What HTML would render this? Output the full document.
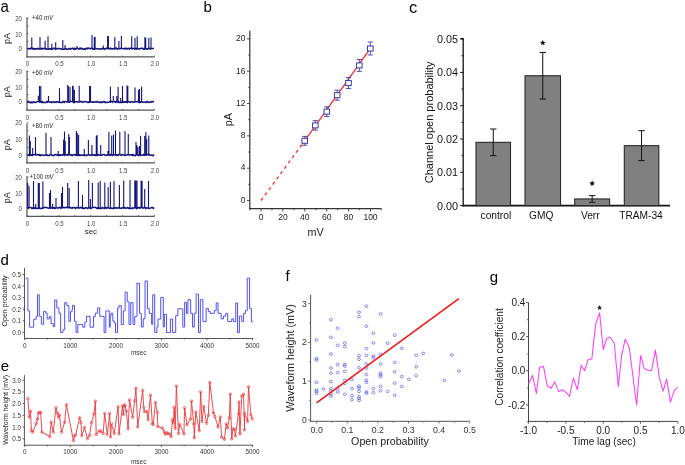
<!DOCTYPE html>
<html><head><meta charset="utf-8"><style>
html,body{margin:0;padding:0;background:#fff;}
svg{display:block;font-family:"Liberation Sans", sans-serif;}
text{filter:grayscale(1);}
</style></head><body>
<svg width="685" height="465" viewBox="0 0 685 465" font-family='"Liberation Sans", sans-serif'>
<rect width="685" height="465" fill="#fff"/>
<text x="0" y="0" font-size="15" fill="#000" transform="translate(0.6,12.2) scale(1,1.15)">a</text>
<text x="203.60" y="12.00" font-size="15" text-anchor="start" fill="#000" >b</text>
<text x="409.00" y="12.50" font-size="16.5" text-anchor="start" fill="#000" >c</text>
<text x="0.60" y="265.20" font-size="15" text-anchor="start" fill="#000" >d</text>
<text x="0.80" y="371.20" font-size="15" text-anchor="start" fill="#000" >e</text>
<text x="285.50" y="280.80" font-size="15" text-anchor="start" fill="#000" >f</text>
<text x="489.80" y="282.30" font-size="15" text-anchor="start" fill="#000" >g</text>
<line x1="27.00" y1="17.20" x2="27.00" y2="57.40" stroke="#555" stroke-width="1.2" />
<line x1="27.00" y1="48.90" x2="28.50" y2="48.90" stroke="#555" stroke-width="0.8" />
<line x1="27.00" y1="41.27" x2="28.50" y2="41.27" stroke="#555" stroke-width="0.8" />
<line x1="27.00" y1="33.65" x2="28.50" y2="33.65" stroke="#555" stroke-width="0.8" />
<line x1="27.00" y1="26.02" x2="28.50" y2="26.02" stroke="#555" stroke-width="0.8" />
<line x1="27.00" y1="18.40" x2="28.50" y2="18.40" stroke="#555" stroke-width="0.8" />
<line x1="26.40" y1="56.80" x2="154.50" y2="56.80" stroke="#555" stroke-width="1.2" />
<line x1="27.00" y1="56.80" x2="27.00" y2="55.50" stroke="#555" stroke-width="0.8" />
<line x1="42.94" y1="56.80" x2="42.94" y2="55.50" stroke="#555" stroke-width="0.8" />
<line x1="58.88" y1="56.80" x2="58.88" y2="55.50" stroke="#555" stroke-width="0.8" />
<line x1="74.81" y1="56.80" x2="74.81" y2="55.50" stroke="#555" stroke-width="0.8" />
<line x1="90.75" y1="56.80" x2="90.75" y2="55.50" stroke="#555" stroke-width="0.8" />
<line x1="106.69" y1="56.80" x2="106.69" y2="55.50" stroke="#555" stroke-width="0.8" />
<line x1="122.62" y1="56.80" x2="122.62" y2="55.50" stroke="#555" stroke-width="0.8" />
<line x1="138.56" y1="56.80" x2="138.56" y2="55.50" stroke="#555" stroke-width="0.8" />
<line x1="154.50" y1="56.80" x2="154.50" y2="55.50" stroke="#555" stroke-width="0.8" />
<text x="0" y="0" font-size="6.9" text-anchor="end" fill="#444" transform="translate(21.90,20.60) scale(0.88,1)">20</text>
<text x="0" y="0" font-size="6.9" text-anchor="end" fill="#444" transform="translate(21.90,36.60) scale(0.88,1)">10</text>
<text x="0" y="0" font-size="6.9" text-anchor="end" fill="#444" transform="translate(21.90,51.10) scale(0.88,1)">0</text>
<text x="0" y="0" font-size="6.9" text-anchor="middle" fill="#444" transform="translate(27.50,66.40) scale(0.88,1)">0</text>
<text x="0" y="0" font-size="6.9" text-anchor="middle" fill="#444" transform="translate(59.38,66.40) scale(0.88,1)">0.5</text>
<text x="0" y="0" font-size="6.9" text-anchor="middle" fill="#444" transform="translate(91.25,66.40) scale(0.88,1)">1.0</text>
<text x="0" y="0" font-size="6.9" text-anchor="middle" fill="#444" transform="translate(123.12,66.40) scale(0.88,1)">1.5</text>
<text x="0" y="0" font-size="6.9" text-anchor="middle" fill="#444" transform="translate(155.00,66.40) scale(0.88,1)">2.0</text>
<text x="0" y="0" font-size="9.0" text-anchor="middle" fill="#222" transform="translate(9.80,38.40) rotate(-90)">pA</text>
<text x="32.00" y="19.50" font-size="6.6" fill="#222" textLength="21.0" lengthAdjust="spacingAndGlyphs">+40 <tspan font-style="italic">mV</tspan></text>
<polyline points="27.30,48.33 28.00,48.76 28.70,48.52 29.40,48.85 30.10,48.88 30.80,48.09 31.50,48.02 32.20,49.17 32.90,48.36 33.60,48.33 34.30,49.39 35.00,48.66 35.70,49.17 36.40,48.67 37.10,48.89 37.80,48.21 38.50,48.89 39.20,49.22 39.90,48.73 40.60,49.04 41.30,48.94 42.00,48.09 42.70,49.06 43.40,48.83 44.10,48.42 44.80,48.04 45.50,49.21 46.20,48.66 46.90,49.01 47.60,49.23 48.30,49.00 49.00,49.29 49.70,48.55 50.40,49.12 51.10,48.62 51.80,49.31 52.50,49.23 53.20,48.14 53.90,48.19 54.60,48.30 55.30,49.35 56.00,48.61 56.70,48.88 57.40,48.42 58.10,48.71 58.80,48.54 59.50,48.49 60.20,48.82 60.90,48.82 61.60,49.27 62.30,48.95 63.00,49.30 63.70,49.20 64.40,49.39 65.10,48.94 65.80,48.23 66.50,49.20 67.20,49.35 67.90,49.27 68.60,48.80 69.30,49.00 70.00,48.30 70.70,49.16 71.40,48.80 72.10,48.40 72.80,48.09 73.50,49.20 74.20,49.39 74.90,48.12 75.60,49.12 76.30,48.57 77.00,48.21 77.70,48.41 78.40,49.08 79.10,49.22 79.80,48.06 80.50,48.86 81.20,48.06 81.90,49.01 82.60,48.46 83.30,49.23 84.00,49.37 84.70,48.71 85.40,49.40 86.10,48.43 86.80,48.11 87.50,48.84 88.20,48.04 88.90,48.28 89.60,48.57 90.30,48.85 91.00,48.22 91.70,48.06 92.40,49.21 93.10,48.44 93.80,49.34 94.50,49.26 95.20,48.53 95.90,48.64 96.60,48.73 97.30,48.90 98.00,48.83 98.70,48.78 99.40,48.87 100.10,49.32 100.80,48.71 101.50,48.60 102.20,49.01 102.90,48.33 103.60,48.42 104.30,49.37 105.00,48.73 105.70,48.77 106.40,48.02 107.10,48.58 107.80,48.81 108.50,48.03 109.20,48.86 109.90,48.89 110.60,48.08 111.30,48.88 112.00,48.65 112.70,48.95 113.40,48.49 114.10,48.99 114.80,49.03 115.50,48.03 116.20,48.08 116.90,48.95 117.60,49.35 118.30,48.35 119.00,48.64 119.70,48.83 120.40,48.45 121.10,48.51 121.80,48.44 122.50,48.52 123.20,48.83 123.90,48.42 124.60,48.53 125.30,49.08 126.00,48.04 126.70,48.80 127.40,49.03 128.10,48.43 128.80,48.31 129.50,49.13 130.20,48.33 130.90,48.26 131.60,48.61 132.30,48.98 133.00,48.14 133.70,48.45 134.40,48.47 135.10,49.17 135.80,48.61 136.50,49.20 137.20,48.24 137.90,48.47 138.60,48.91 139.30,49.24 140.00,48.63 140.70,48.32 141.40,48.17 142.10,48.74 142.80,48.27 143.50,49.13 144.20,49.17 144.90,48.26 145.60,48.39 146.30,49.13 147.00,48.90 147.70,49.13 148.40,48.48 149.10,48.18 149.80,48.41 150.50,49.11 151.20,48.38 151.90,48.48 152.60,48.58 153.30,48.59 154.00,48.57" fill="none" stroke="#14147a" stroke-width="1.5" stroke-linejoin="round"/>
<path d="M31.80,48.70V37.40M40.00,48.70V37.00M45.10,48.70V40.70M48.00,48.70V36.20M51.80,48.70V43.70M55.70,48.70V42.30M62.80,48.70V39.90M65.00,48.70V45.00M77.10,48.70V46.00M92.00,48.70V35.00M94.30,48.70V37.00M95.10,48.70V37.00M103.30,48.70V45.50M107.60,48.70V36.30M108.40,48.70V36.00M114.80,48.70V37.00M118.90,48.70V41.00M121.40,48.70V36.00M131.70,48.70V36.30M135.00,48.70V38.00M137.20,48.70V36.30M144.90,48.70V37.00M145.70,48.70V38.00M148.80,48.70V38.00M151.00,48.70V37.40" fill="none" stroke="#14147a" stroke-width="1.1"/>
<line x1="27.00" y1="70.60" x2="27.00" y2="110.80" stroke="#555" stroke-width="1.2" />
<line x1="27.00" y1="102.10" x2="28.50" y2="102.10" stroke="#555" stroke-width="0.8" />
<line x1="27.00" y1="94.47" x2="28.50" y2="94.47" stroke="#555" stroke-width="0.8" />
<line x1="27.00" y1="86.85" x2="28.50" y2="86.85" stroke="#555" stroke-width="0.8" />
<line x1="27.00" y1="79.22" x2="28.50" y2="79.22" stroke="#555" stroke-width="0.8" />
<line x1="27.00" y1="71.60" x2="28.50" y2="71.60" stroke="#555" stroke-width="0.8" />
<line x1="26.40" y1="110.20" x2="154.50" y2="110.20" stroke="#555" stroke-width="1.2" />
<line x1="27.00" y1="110.20" x2="27.00" y2="108.90" stroke="#555" stroke-width="0.8" />
<line x1="42.94" y1="110.20" x2="42.94" y2="108.90" stroke="#555" stroke-width="0.8" />
<line x1="58.88" y1="110.20" x2="58.88" y2="108.90" stroke="#555" stroke-width="0.8" />
<line x1="74.81" y1="110.20" x2="74.81" y2="108.90" stroke="#555" stroke-width="0.8" />
<line x1="90.75" y1="110.20" x2="90.75" y2="108.90" stroke="#555" stroke-width="0.8" />
<line x1="106.69" y1="110.20" x2="106.69" y2="108.90" stroke="#555" stroke-width="0.8" />
<line x1="122.62" y1="110.20" x2="122.62" y2="108.90" stroke="#555" stroke-width="0.8" />
<line x1="138.56" y1="110.20" x2="138.56" y2="108.90" stroke="#555" stroke-width="0.8" />
<line x1="154.50" y1="110.20" x2="154.50" y2="108.90" stroke="#555" stroke-width="0.8" />
<text x="0" y="0" font-size="6.9" text-anchor="end" fill="#444" transform="translate(21.90,73.80) scale(0.88,1)">20</text>
<text x="0" y="0" font-size="6.9" text-anchor="end" fill="#444" transform="translate(21.90,89.70) scale(0.88,1)">10</text>
<text x="0" y="0" font-size="6.9" text-anchor="end" fill="#444" transform="translate(21.90,104.30) scale(0.88,1)">0</text>
<text x="0" y="0" font-size="6.9" text-anchor="middle" fill="#444" transform="translate(27.50,119.80) scale(0.88,1)">0</text>
<text x="0" y="0" font-size="6.9" text-anchor="middle" fill="#444" transform="translate(59.38,119.80) scale(0.88,1)">0.5</text>
<text x="0" y="0" font-size="6.9" text-anchor="middle" fill="#444" transform="translate(91.25,119.80) scale(0.88,1)">1.0</text>
<text x="0" y="0" font-size="6.9" text-anchor="middle" fill="#444" transform="translate(123.12,119.80) scale(0.88,1)">1.5</text>
<text x="0" y="0" font-size="6.9" text-anchor="middle" fill="#444" transform="translate(155.00,119.80) scale(0.88,1)">2.0</text>
<text x="0" y="0" font-size="9.0" text-anchor="middle" fill="#222" transform="translate(9.80,91.70) rotate(-90)">pA</text>
<text x="32.00" y="75.00" font-size="6.6" fill="#222" textLength="21.0" lengthAdjust="spacingAndGlyphs">+60 <tspan font-style="italic">mV</tspan></text>
<polyline points="27.30,102.59 28.00,101.52 28.70,101.31 29.40,102.62 30.10,102.53 30.80,102.68 31.50,101.91 32.20,102.63 32.90,102.60 33.60,101.61 34.30,102.34 35.00,102.47 35.70,102.23 36.40,102.03 37.10,101.70 37.80,101.78 38.50,101.62 39.20,101.40 39.90,102.12 40.60,101.70 41.30,102.43 42.00,101.36 42.70,102.57 43.40,102.27 44.10,102.59 44.80,102.56 45.50,102.56 46.20,102.11 46.90,101.32 47.60,102.34 48.30,101.54 49.00,101.72 49.70,102.23 50.40,102.03 51.10,101.88 51.80,102.61 52.50,102.16 53.20,101.78 53.90,101.65 54.60,102.51 55.30,101.97 56.00,102.40 56.70,101.79 57.40,101.58 58.10,102.05 58.80,102.44 59.50,101.54 60.20,102.41 60.90,102.59 61.60,102.43 62.30,102.45 63.00,101.31 63.70,102.18 64.40,102.51 65.10,101.37 65.80,101.68 66.50,101.68 67.20,102.04 67.90,101.89 68.60,101.96 69.30,102.39 70.00,101.30 70.70,101.38 71.40,101.48 72.10,101.47 72.80,101.40 73.50,102.66 74.20,102.50 74.90,101.42 75.60,102.00 76.30,101.74 77.00,101.74 77.70,101.79 78.40,102.21 79.10,102.12 79.80,101.81 80.50,101.57 81.20,101.76 81.90,101.47 82.60,102.08 83.30,102.30 84.00,101.83 84.70,101.41 85.40,101.55 86.10,101.82 86.80,102.15 87.50,102.40 88.20,101.83 88.90,102.42 89.60,102.17 90.30,101.90 91.00,101.82 91.70,101.99 92.40,102.28 93.10,101.89 93.80,102.27 94.50,101.95 95.20,101.64 95.90,102.05 96.60,102.27 97.30,101.40 98.00,101.89 98.70,101.90 99.40,102.53 100.10,102.61 100.80,101.82 101.50,102.56 102.20,102.41 102.90,101.67 103.60,101.95 104.30,101.47 105.00,102.44 105.70,102.23 106.40,102.54 107.10,102.41 107.80,102.23 108.50,102.33 109.20,102.09 109.90,101.44 110.60,102.12 111.30,101.31 112.00,101.50 112.70,102.38 113.40,101.36 114.10,101.43 114.80,101.44 115.50,102.53 116.20,101.55 116.90,101.33 117.60,102.48 118.30,101.47 119.00,102.48 119.70,102.24 120.40,102.47 121.10,102.63 121.80,102.11 122.50,102.42 123.20,101.35 123.90,102.37 124.60,102.02 125.30,102.30 126.00,101.45 126.70,102.35 127.40,102.61 128.10,101.39 128.80,101.75 129.50,102.09 130.20,102.46 130.90,101.64 131.60,101.55 132.30,101.65 133.00,102.16 133.70,102.35 134.40,101.85 135.10,101.81 135.80,101.86 136.50,101.79 137.20,101.89 137.90,101.42 138.60,102.00 139.30,102.66 140.00,101.88 140.70,102.35 141.40,101.52 142.10,102.27 142.80,102.36 143.50,102.24 144.20,102.02 144.90,101.98 145.60,102.20 146.30,102.56 147.00,101.51 147.70,101.43 148.40,102.35 149.10,102.58 149.80,102.02 150.50,101.92 151.20,102.31 151.90,101.56 152.60,101.67 153.30,101.58 154.00,102.12" fill="none" stroke="#14147a" stroke-width="1.5" stroke-linejoin="round"/>
<path d="M38.30,102.00V95.70M39.50,102.00V86.00M40.80,102.00V86.00M48.50,102.00V96.00M59.50,102.00V88.30M67.70,102.00V85.00M68.40,102.00V86.00M70.00,102.00V87.00M72.50,102.00V85.70M73.20,102.00V86.00M74.40,102.00V90.00M79.20,102.00V85.70M89.60,102.00V86.00M90.50,102.00V86.00M110.40,102.00V86.50M113.30,102.00V96.00M116.80,102.00V96.00M118.10,102.00V87.00M120.70,102.00V98.00M122.50,102.00V86.00M127.00,102.00V85.50M127.80,102.00V86.00M135.00,102.00V87.50M138.50,102.00V90.00M139.50,102.00V89.00M141.60,102.00V86.50" fill="none" stroke="#14147a" stroke-width="1.1"/>
<line x1="27.00" y1="123.60" x2="27.00" y2="163.50" stroke="#555" stroke-width="1.2" />
<line x1="27.00" y1="155.80" x2="28.50" y2="155.80" stroke="#555" stroke-width="0.8" />
<line x1="27.00" y1="147.53" x2="28.50" y2="147.53" stroke="#555" stroke-width="0.8" />
<line x1="27.00" y1="139.25" x2="28.50" y2="139.25" stroke="#555" stroke-width="0.8" />
<line x1="27.00" y1="130.97" x2="28.50" y2="130.97" stroke="#555" stroke-width="0.8" />
<line x1="27.00" y1="122.70" x2="28.50" y2="122.70" stroke="#555" stroke-width="0.8" />
<line x1="26.40" y1="162.90" x2="154.50" y2="162.90" stroke="#555" stroke-width="1.2" />
<line x1="27.00" y1="162.90" x2="27.00" y2="161.60" stroke="#555" stroke-width="0.8" />
<line x1="42.94" y1="162.90" x2="42.94" y2="161.60" stroke="#555" stroke-width="0.8" />
<line x1="58.88" y1="162.90" x2="58.88" y2="161.60" stroke="#555" stroke-width="0.8" />
<line x1="74.81" y1="162.90" x2="74.81" y2="161.60" stroke="#555" stroke-width="0.8" />
<line x1="90.75" y1="162.90" x2="90.75" y2="161.60" stroke="#555" stroke-width="0.8" />
<line x1="106.69" y1="162.90" x2="106.69" y2="161.60" stroke="#555" stroke-width="0.8" />
<line x1="122.62" y1="162.90" x2="122.62" y2="161.60" stroke="#555" stroke-width="0.8" />
<line x1="138.56" y1="162.90" x2="138.56" y2="161.60" stroke="#555" stroke-width="0.8" />
<line x1="154.50" y1="162.90" x2="154.50" y2="161.60" stroke="#555" stroke-width="0.8" />
<text x="0" y="0" font-size="6.9" text-anchor="end" fill="#444" transform="translate(21.90,124.90) scale(0.88,1)">20</text>
<text x="0" y="0" font-size="6.9" text-anchor="end" fill="#444" transform="translate(21.90,141.70) scale(0.88,1)">10</text>
<text x="0" y="0" font-size="6.9" text-anchor="end" fill="#444" transform="translate(21.90,158.00) scale(0.88,1)">0</text>
<text x="0" y="0" font-size="6.9" text-anchor="middle" fill="#444" transform="translate(27.50,172.50) scale(0.88,1)">0</text>
<text x="0" y="0" font-size="6.9" text-anchor="middle" fill="#444" transform="translate(59.38,172.50) scale(0.88,1)">0.5</text>
<text x="0" y="0" font-size="6.9" text-anchor="middle" fill="#444" transform="translate(91.25,172.50) scale(0.88,1)">1.0</text>
<text x="0" y="0" font-size="6.9" text-anchor="middle" fill="#444" transform="translate(123.12,172.50) scale(0.88,1)">1.5</text>
<text x="0" y="0" font-size="6.9" text-anchor="middle" fill="#444" transform="translate(155.00,172.50) scale(0.88,1)">2.0</text>
<text x="0" y="0" font-size="9.0" text-anchor="middle" fill="#222" transform="translate(9.80,144.70) rotate(-90)">pA</text>
<text x="32.00" y="128.00" font-size="6.6" fill="#222" textLength="21.0" lengthAdjust="spacingAndGlyphs">+80 <tspan font-style="italic">mV</tspan></text>
<polyline points="27.30,154.74 28.00,154.63 28.70,155.27 29.40,155.63 30.10,154.71 30.80,155.29 31.50,154.88 32.20,155.50 32.90,155.12 33.60,154.67 34.30,154.60 35.00,154.33 35.70,154.97 36.40,154.84 37.10,154.54 37.80,154.80 38.50,154.75 39.20,155.38 39.90,154.50 40.60,155.69 41.30,154.97 42.00,155.14 42.70,154.96 43.40,155.47 44.10,155.45 44.80,155.08 45.50,154.97 46.20,155.31 46.90,155.50 47.60,154.86 48.30,155.33 49.00,155.64 49.70,154.95 50.40,154.62 51.10,154.63 51.80,155.30 52.50,155.25 53.20,155.64 53.90,155.50 54.60,154.64 55.30,154.57 56.00,154.66 56.70,154.56 57.40,155.29 58.10,155.50 58.80,155.56 59.50,154.66 60.20,155.51 60.90,154.74 61.60,154.89 62.30,155.32 63.00,154.42 63.70,154.43 64.40,155.47 65.10,154.71 65.80,154.80 66.50,155.11 67.20,155.25 67.90,154.31 68.60,154.77 69.30,154.91 70.00,154.98 70.70,154.59 71.40,155.12 72.10,155.64 72.80,154.85 73.50,155.06 74.20,154.47 74.90,154.68 75.60,155.23 76.30,154.46 77.00,155.54 77.70,155.57 78.40,154.44 79.10,155.62 79.80,154.82 80.50,155.38 81.20,155.36 81.90,154.71 82.60,155.25 83.30,155.22 84.00,155.43 84.70,154.67 85.40,155.36 86.10,155.65 86.80,155.24 87.50,155.05 88.20,154.46 88.90,154.99 89.60,154.79 90.30,155.31 91.00,155.25 91.70,155.09 92.40,154.55 93.10,155.20 93.80,155.18 94.50,154.55 95.20,155.55 95.90,155.22 96.60,154.47 97.30,155.60 98.00,154.50 98.70,154.76 99.40,155.31 100.10,155.14 100.80,155.08 101.50,155.21 102.20,154.94 102.90,154.74 103.60,154.55 104.30,154.40 105.00,155.30 105.70,155.36 106.40,155.06 107.10,155.34 107.80,154.80 108.50,154.67 109.20,154.84 109.90,155.52 110.60,154.36 111.30,155.01 112.00,154.65 112.70,155.38 113.40,154.80 114.10,154.77 114.80,154.86 115.50,155.06 116.20,155.38 116.90,154.79 117.60,155.49 118.30,154.46 119.00,154.68 119.70,154.44 120.40,154.46 121.10,155.39 121.80,155.32 122.50,154.56 123.20,154.56 123.90,154.88 124.60,155.34 125.30,155.44 126.00,155.35 126.70,155.13 127.40,154.51 128.10,154.86 128.80,154.57 129.50,155.04 130.20,155.10 130.90,154.58 131.60,154.65 132.30,155.39 133.00,154.34 133.70,155.42 134.40,155.55 135.10,155.63 135.80,154.84 136.50,155.07 137.20,155.12 137.90,155.19 138.60,155.67 139.30,155.26 140.00,154.72 140.70,155.50 141.40,154.98 142.10,155.14 142.80,155.32 143.50,154.30 144.20,155.38 144.90,155.23 145.60,154.99 146.30,155.03 147.00,154.94 147.70,154.57 148.40,155.04 149.10,154.35 149.80,155.00 150.50,155.20 151.20,154.92 151.90,155.09 152.60,155.64 153.30,155.55 154.00,154.49" fill="none" stroke="#14147a" stroke-width="1.5" stroke-linejoin="round"/>
<path d="M29.40,155.00V135.60M30.30,155.00V141.00M32.70,155.00V148.00M35.50,155.00V137.00M46.00,155.00V132.80M51.00,155.00V137.00M58.20,155.00V151.00M63.60,155.00V139.50M64.50,155.00V131.60M65.20,155.00V141.00M68.70,155.00V134.00M69.40,155.00V137.00M76.40,155.00V131.00M77.30,155.00V133.00M78.60,155.00V135.00M84.30,155.00V149.00M88.40,155.00V140.00M91.90,155.00V145.00M96.30,155.00V136.00M97.10,155.00V135.00M100.70,155.00V145.00M107.90,155.00V151.00M108.90,155.00V132.00M111.70,155.00V135.50M113.50,155.00V134.50M115.50,155.00V130.50M119.80,155.00V131.80M125.00,155.00V131.00M128.30,155.00V134.00M136.00,155.00V142.00M136.80,155.00V145.00M138.00,155.00V147.00M139.60,155.00V146.00M140.60,155.00V135.70M144.70,155.00V136.00M145.90,155.00V132.00M146.70,155.00V139.00M148.80,155.00V135.50" fill="none" stroke="#14147a" stroke-width="1.1"/>
<line x1="27.00" y1="176.00" x2="27.00" y2="216.90" stroke="#555" stroke-width="1.2" />
<line x1="27.00" y1="209.00" x2="28.50" y2="209.00" stroke="#555" stroke-width="0.8" />
<line x1="27.00" y1="201.10" x2="28.50" y2="201.10" stroke="#555" stroke-width="0.8" />
<line x1="27.00" y1="193.20" x2="28.50" y2="193.20" stroke="#555" stroke-width="0.8" />
<line x1="27.00" y1="185.30" x2="28.50" y2="185.30" stroke="#555" stroke-width="0.8" />
<line x1="27.00" y1="177.40" x2="28.50" y2="177.40" stroke="#555" stroke-width="0.8" />
<line x1="26.40" y1="216.30" x2="154.50" y2="216.30" stroke="#555" stroke-width="1.2" />
<line x1="27.00" y1="216.30" x2="27.00" y2="215.00" stroke="#555" stroke-width="0.8" />
<line x1="42.94" y1="216.30" x2="42.94" y2="215.00" stroke="#555" stroke-width="0.8" />
<line x1="58.88" y1="216.30" x2="58.88" y2="215.00" stroke="#555" stroke-width="0.8" />
<line x1="74.81" y1="216.30" x2="74.81" y2="215.00" stroke="#555" stroke-width="0.8" />
<line x1="90.75" y1="216.30" x2="90.75" y2="215.00" stroke="#555" stroke-width="0.8" />
<line x1="106.69" y1="216.30" x2="106.69" y2="215.00" stroke="#555" stroke-width="0.8" />
<line x1="122.62" y1="216.30" x2="122.62" y2="215.00" stroke="#555" stroke-width="0.8" />
<line x1="138.56" y1="216.30" x2="138.56" y2="215.00" stroke="#555" stroke-width="0.8" />
<line x1="154.50" y1="216.30" x2="154.50" y2="215.00" stroke="#555" stroke-width="0.8" />
<text x="0" y="0" font-size="6.9" text-anchor="end" fill="#444" transform="translate(21.90,179.60) scale(0.88,1)">20</text>
<text x="0" y="0" font-size="6.9" text-anchor="end" fill="#444" transform="translate(21.90,196.10) scale(0.88,1)">10</text>
<text x="0" y="0" font-size="6.9" text-anchor="end" fill="#444" transform="translate(21.90,211.20) scale(0.88,1)">0</text>
<text x="0" y="0" font-size="6.9" text-anchor="middle" fill="#444" transform="translate(27.50,225.90) scale(0.88,1)">0</text>
<text x="0" y="0" font-size="6.9" text-anchor="middle" fill="#444" transform="translate(59.38,225.90) scale(0.88,1)">0.5</text>
<text x="0" y="0" font-size="6.9" text-anchor="middle" fill="#444" transform="translate(91.25,225.90) scale(0.88,1)">1.0</text>
<text x="0" y="0" font-size="6.9" text-anchor="middle" fill="#444" transform="translate(123.12,225.90) scale(0.88,1)">1.5</text>
<text x="0" y="0" font-size="6.9" text-anchor="middle" fill="#444" transform="translate(155.00,225.90) scale(0.88,1)">2.0</text>
<text x="0" y="0" font-size="9.0" text-anchor="middle" fill="#222" transform="translate(9.80,197.70) rotate(-90)">pA</text>
<text x="29.60" y="178.90" font-size="6.6" fill="#222" textLength="24.0" lengthAdjust="spacingAndGlyphs">+100 <tspan font-style="italic">mV</tspan></text>
<polyline points="27.30,208.41 28.00,208.17 28.70,207.37 29.40,207.80 30.10,207.63 30.80,207.41 31.50,208.05 32.20,208.60 32.90,207.75 33.60,208.52 34.30,208.27 35.00,207.49 35.70,208.50 36.40,208.14 37.10,208.60 37.80,208.30 38.50,208.34 39.20,207.78 39.90,208.43 40.60,208.60 41.30,208.51 42.00,207.91 42.70,208.36 43.40,207.98 44.10,207.45 44.80,207.36 45.50,207.41 46.20,207.58 46.90,207.53 47.60,208.00 48.30,208.28 49.00,208.05 49.70,207.89 50.40,208.21 51.10,207.73 51.80,207.95 52.50,208.36 53.20,207.86 53.90,207.55 54.60,208.56 55.30,208.31 56.00,207.81 56.70,207.82 57.40,208.04 58.10,208.14 58.80,207.61 59.50,207.30 60.20,207.59 60.90,208.40 61.60,207.50 62.30,207.94 63.00,207.57 63.70,207.59 64.40,207.54 65.10,207.87 65.80,207.54 66.50,207.34 67.20,207.45 67.90,207.54 68.60,207.99 69.30,207.38 70.00,207.33 70.70,207.93 71.40,207.87 72.10,208.28 72.80,207.37 73.50,207.86 74.20,207.86 74.90,207.34 75.60,208.65 76.30,207.61 77.00,207.43 77.70,207.96 78.40,207.53 79.10,208.17 79.80,207.78 80.50,207.47 81.20,207.37 81.90,208.32 82.60,207.69 83.30,208.40 84.00,207.95 84.70,208.61 85.40,207.72 86.10,207.65 86.80,207.67 87.50,208.44 88.20,208.18 88.90,207.78 89.60,207.43 90.30,208.26 91.00,208.66 91.70,208.13 92.40,207.31 93.10,207.34 93.80,207.43 94.50,207.54 95.20,207.35 95.90,207.38 96.60,208.22 97.30,208.56 98.00,207.58 98.70,208.66 99.40,207.97 100.10,208.43 100.80,208.58 101.50,208.62 102.20,207.35 102.90,207.73 103.60,208.15 104.30,208.63 105.00,207.42 105.70,207.71 106.40,208.49 107.10,207.46 107.80,207.85 108.50,207.77 109.20,208.25 109.90,208.60 110.60,207.54 111.30,208.34 112.00,208.33 112.70,208.47 113.40,208.07 114.10,208.59 114.80,207.81 115.50,207.88 116.20,207.62 116.90,208.39 117.60,207.97 118.30,207.68 119.00,207.54 119.70,208.31 120.40,208.15 121.10,208.29 121.80,207.84 122.50,207.98 123.20,207.52 123.90,208.29 124.60,207.33 125.30,207.95 126.00,208.36 126.70,208.25 127.40,207.44 128.10,207.63 128.80,208.48 129.50,208.20 130.20,208.53 130.90,208.52 131.60,207.93 132.30,208.56 133.00,208.33 133.70,207.77 134.40,207.82 135.10,207.40 135.80,207.86 136.50,208.64 137.20,207.45 137.90,208.10 138.60,207.45 139.30,207.41 140.00,208.21 140.70,207.64 141.40,207.37 142.10,207.51 142.80,208.20 143.50,208.12 144.20,207.32 144.90,207.62 145.60,208.65 146.30,207.61 147.00,208.09 147.70,207.89 148.40,208.39 149.10,208.15 149.80,208.40 150.50,208.05 151.20,207.56 151.90,207.55 152.60,207.41 153.30,208.46 154.00,207.46" fill="none" stroke="#14147a" stroke-width="1.5" stroke-linejoin="round"/>
<path d="M27.60,208.00V182.70M29.10,208.00V186.00M33.50,208.00V181.00M35.70,208.00V204.00M38.30,208.00V183.00M39.30,208.00V183.00M42.90,208.00V181.50M49.50,208.00V193.00M50.50,208.00V190.00M52.60,208.00V204.00M56.00,208.00V198.00M61.50,208.00V193.00M62.50,208.00V187.00M67.70,208.00V183.00M69.20,208.00V188.00M78.40,208.00V181.00M82.50,208.00V195.00M88.70,208.00V180.00M90.40,208.00V199.00M92.40,208.00V183.00M98.20,208.00V182.50M100.20,208.00V181.00M104.80,208.00V182.50M108.20,208.00V187.00M110.40,208.00V182.00M114.00,208.00V181.00M119.40,208.00V185.00M123.70,208.00V180.50M130.00,208.00V180.00M134.80,208.00V180.50M135.80,208.00V180.50M137.00,208.00V180.50M141.10,208.00V180.50M142.10,208.00V181.00M144.70,208.00V189.00M148.50,208.00V181.00" fill="none" stroke="#14147a" stroke-width="1.1"/>
<text x="90.90" y="233.80" font-size="7.9" text-anchor="middle" fill="#222" >sec</text>
<line x1="249.80" y1="30.70" x2="249.80" y2="209.30" stroke="#333" stroke-width="1.2" />
<line x1="249.20" y1="208.70" x2="381.30" y2="208.70" stroke="#333" stroke-width="1.2" />
<line x1="247.00" y1="200.50" x2="249.80" y2="200.50" stroke="#333" stroke-width="0.9" />
<text x="245.50" y="202.80" font-size="8.5" text-anchor="end" fill="#222" >0</text>
<line x1="248.20" y1="184.34" x2="249.80" y2="184.34" stroke="#333" stroke-width="0.8" />
<line x1="247.00" y1="168.18" x2="249.80" y2="168.18" stroke="#333" stroke-width="0.9" />
<text x="245.50" y="170.48" font-size="8.5" text-anchor="end" fill="#222" >4</text>
<line x1="248.20" y1="152.02" x2="249.80" y2="152.02" stroke="#333" stroke-width="0.8" />
<line x1="247.00" y1="135.86" x2="249.80" y2="135.86" stroke="#333" stroke-width="0.9" />
<text x="245.50" y="138.16" font-size="8.5" text-anchor="end" fill="#222" >8</text>
<line x1="248.20" y1="119.70" x2="249.80" y2="119.70" stroke="#333" stroke-width="0.8" />
<line x1="247.00" y1="103.54" x2="249.80" y2="103.54" stroke="#333" stroke-width="0.9" />
<text x="245.50" y="105.84" font-size="8.5" text-anchor="end" fill="#222" >12</text>
<line x1="248.20" y1="87.38" x2="249.80" y2="87.38" stroke="#333" stroke-width="0.8" />
<line x1="247.00" y1="71.22" x2="249.80" y2="71.22" stroke="#333" stroke-width="0.9" />
<text x="245.50" y="73.52" font-size="8.5" text-anchor="end" fill="#222" >16</text>
<line x1="248.20" y1="55.06" x2="249.80" y2="55.06" stroke="#333" stroke-width="0.8" />
<line x1="247.00" y1="38.90" x2="249.80" y2="38.90" stroke="#333" stroke-width="0.9" />
<text x="245.50" y="41.20" font-size="8.5" text-anchor="end" fill="#222" >20</text>
<line x1="250.05" y1="208.70" x2="250.05" y2="210.30" stroke="#333" stroke-width="0.8" />
<line x1="261.00" y1="208.70" x2="261.00" y2="211.50" stroke="#333" stroke-width="0.9" />
<text x="261.00" y="220.20" font-size="8.5" text-anchor="middle" fill="#222" >0</text>
<line x1="271.95" y1="208.70" x2="271.95" y2="210.30" stroke="#333" stroke-width="0.8" />
<line x1="282.90" y1="208.70" x2="282.90" y2="211.50" stroke="#333" stroke-width="0.9" />
<text x="282.90" y="220.20" font-size="8.5" text-anchor="middle" fill="#222" >20</text>
<line x1="293.85" y1="208.70" x2="293.85" y2="210.30" stroke="#333" stroke-width="0.8" />
<line x1="304.80" y1="208.70" x2="304.80" y2="211.50" stroke="#333" stroke-width="0.9" />
<text x="304.80" y="220.20" font-size="8.5" text-anchor="middle" fill="#222" >40</text>
<line x1="315.75" y1="208.70" x2="315.75" y2="210.30" stroke="#333" stroke-width="0.8" />
<line x1="326.70" y1="208.70" x2="326.70" y2="211.50" stroke="#333" stroke-width="0.9" />
<text x="326.70" y="220.20" font-size="8.5" text-anchor="middle" fill="#222" >60</text>
<line x1="337.65" y1="208.70" x2="337.65" y2="210.30" stroke="#333" stroke-width="0.8" />
<line x1="348.60" y1="208.70" x2="348.60" y2="211.50" stroke="#333" stroke-width="0.9" />
<text x="348.60" y="220.20" font-size="8.5" text-anchor="middle" fill="#222" >80</text>
<line x1="359.55" y1="208.70" x2="359.55" y2="210.30" stroke="#333" stroke-width="0.8" />
<line x1="370.50" y1="208.70" x2="370.50" y2="211.50" stroke="#333" stroke-width="0.9" />
<text x="370.50" y="220.20" font-size="8.5" text-anchor="middle" fill="#222" >100</text>
<line x1="381.45" y1="208.70" x2="381.45" y2="210.30" stroke="#333" stroke-width="0.8" />
<text x="315.70" y="235.90" font-size="10.8" text-anchor="middle" fill="#222" >mV</text>
<text x="0" y="0" font-size="10.8" text-anchor="middle" fill="#222" transform="translate(232.40,119.70) rotate(-90)">pA</text>
<line x1="261.00" y1="200.50" x2="304.80" y2="140.71" stroke="#ff2a2a" stroke-width="1.3" stroke-dasharray="3.2,3.4"/>
<line x1="304.80" y1="140.71" x2="370.50" y2="48.19" stroke="#ff2a2a" stroke-width="1.3"/>
<line x1="304.70" y1="136.40" x2="304.70" y2="145.20" stroke="#3a3aa8" stroke-width="0.9" />
<line x1="302.10" y1="136.40" x2="307.30" y2="136.40" stroke="#3a3aa8" stroke-width="0.9" />
<line x1="302.10" y1="145.20" x2="307.30" y2="145.20" stroke="#3a3aa8" stroke-width="0.9" />
<rect x="301.90" y="138.30" width="5.6" height="5.0" fill="#fff" stroke="#3a3aa8" stroke-width="1"/>
<line x1="315.30" y1="120.65" x2="315.30" y2="130.15" stroke="#3a3aa8" stroke-width="0.9" />
<line x1="312.70" y1="120.65" x2="317.90" y2="120.65" stroke="#3a3aa8" stroke-width="0.9" />
<line x1="312.70" y1="130.15" x2="317.90" y2="130.15" stroke="#3a3aa8" stroke-width="0.9" />
<rect x="312.50" y="122.90" width="5.6" height="5.0" fill="#fff" stroke="#3a3aa8" stroke-width="1"/>
<line x1="326.80" y1="106.80" x2="326.80" y2="116.40" stroke="#3a3aa8" stroke-width="0.9" />
<line x1="324.20" y1="106.80" x2="329.40" y2="106.80" stroke="#3a3aa8" stroke-width="0.9" />
<line x1="324.20" y1="116.40" x2="329.40" y2="116.40" stroke="#3a3aa8" stroke-width="0.9" />
<rect x="324.00" y="109.10" width="5.6" height="5.0" fill="#fff" stroke="#3a3aa8" stroke-width="1"/>
<line x1="337.20" y1="90.20" x2="337.20" y2="100.20" stroke="#3a3aa8" stroke-width="0.9" />
<line x1="334.60" y1="90.20" x2="339.80" y2="90.20" stroke="#3a3aa8" stroke-width="0.9" />
<line x1="334.60" y1="100.20" x2="339.80" y2="100.20" stroke="#3a3aa8" stroke-width="0.9" />
<rect x="334.40" y="92.70" width="5.6" height="5.0" fill="#fff" stroke="#3a3aa8" stroke-width="1"/>
<line x1="348.50" y1="77.65" x2="348.50" y2="88.55" stroke="#3a3aa8" stroke-width="0.9" />
<line x1="345.90" y1="77.65" x2="351.10" y2="77.65" stroke="#3a3aa8" stroke-width="0.9" />
<line x1="345.90" y1="88.55" x2="351.10" y2="88.55" stroke="#3a3aa8" stroke-width="0.9" />
<rect x="345.70" y="80.60" width="5.6" height="5.0" fill="#fff" stroke="#3a3aa8" stroke-width="1"/>
<line x1="359.30" y1="59.45" x2="359.30" y2="71.35" stroke="#3a3aa8" stroke-width="0.9" />
<line x1="356.70" y1="59.45" x2="361.90" y2="59.45" stroke="#3a3aa8" stroke-width="0.9" />
<line x1="356.70" y1="71.35" x2="361.90" y2="71.35" stroke="#3a3aa8" stroke-width="0.9" />
<rect x="356.50" y="62.90" width="5.6" height="5.0" fill="#fff" stroke="#3a3aa8" stroke-width="1"/>
<line x1="370.30" y1="42.05" x2="370.30" y2="54.95" stroke="#3a3aa8" stroke-width="0.9" />
<line x1="367.70" y1="42.05" x2="372.90" y2="42.05" stroke="#3a3aa8" stroke-width="0.9" />
<line x1="367.70" y1="54.95" x2="372.90" y2="54.95" stroke="#3a3aa8" stroke-width="0.9" />
<rect x="367.50" y="46.00" width="5.6" height="5.0" fill="#fff" stroke="#3a3aa8" stroke-width="1"/>
<line x1="463.20" y1="38.10" x2="463.20" y2="206.60" stroke="#111" stroke-width="1.3" />
<line x1="462.60" y1="205.60" x2="670.00" y2="205.60" stroke="#111" stroke-width="1.6" />
<line x1="460.40" y1="38.60" x2="463.20" y2="38.60" stroke="#111" stroke-width="1.0" />
<line x1="460.20" y1="205.60" x2="463.20" y2="205.60" stroke="#111" stroke-width="1.0" />
<text x="458.00" y="209.50" font-size="10.8" text-anchor="end" fill="#111" >0.00</text>
<line x1="461.40" y1="188.95" x2="463.20" y2="188.95" stroke="#111" stroke-width="0.9" />
<line x1="460.20" y1="172.30" x2="463.20" y2="172.30" stroke="#111" stroke-width="1.0" />
<text x="458.00" y="176.20" font-size="10.8" text-anchor="end" fill="#111" >0.01</text>
<line x1="461.40" y1="155.65" x2="463.20" y2="155.65" stroke="#111" stroke-width="0.9" />
<line x1="460.20" y1="139.00" x2="463.20" y2="139.00" stroke="#111" stroke-width="1.0" />
<text x="458.00" y="142.90" font-size="10.8" text-anchor="end" fill="#111" >0.02</text>
<line x1="461.40" y1="122.35" x2="463.20" y2="122.35" stroke="#111" stroke-width="0.9" />
<line x1="460.20" y1="105.70" x2="463.20" y2="105.70" stroke="#111" stroke-width="1.0" />
<text x="458.00" y="109.60" font-size="10.8" text-anchor="end" fill="#111" >0.03</text>
<line x1="461.40" y1="89.05" x2="463.20" y2="89.05" stroke="#111" stroke-width="0.9" />
<line x1="460.20" y1="72.40" x2="463.20" y2="72.40" stroke="#111" stroke-width="1.0" />
<text x="458.00" y="76.30" font-size="10.8" text-anchor="end" fill="#111" >0.04</text>
<line x1="461.40" y1="55.75" x2="463.20" y2="55.75" stroke="#111" stroke-width="0.9" />
<line x1="460.20" y1="39.10" x2="463.20" y2="39.10" stroke="#111" stroke-width="1.0" />
<text x="458.00" y="43.00" font-size="10.8" text-anchor="end" fill="#111" >0.05</text>
<rect x="476.00" y="142.33" width="34.50" height="63.27" fill="#808080" stroke="#2a2a2a" stroke-width="1.1"/>
<line x1="493.25" y1="129.01" x2="493.25" y2="155.65" stroke="#111" stroke-width="1.0" />
<line x1="490.05" y1="129.01" x2="496.45" y2="129.01" stroke="#111" stroke-width="1.0" />
<line x1="490.05" y1="155.65" x2="496.45" y2="155.65" stroke="#111" stroke-width="1.0" />
<text x="495.90" y="218.90" font-size="10.2" text-anchor="middle" fill="#111" >control</text>
<rect x="525.00" y="75.73" width="35.50" height="129.87" fill="#808080" stroke="#2a2a2a" stroke-width="1.1"/>
<line x1="542.75" y1="52.42" x2="542.75" y2="99.04" stroke="#111" stroke-width="1.0" />
<line x1="539.55" y1="52.42" x2="545.95" y2="52.42" stroke="#111" stroke-width="1.0" />
<line x1="539.55" y1="99.04" x2="545.95" y2="99.04" stroke="#111" stroke-width="1.0" />
<text x="541.20" y="218.90" font-size="10.2" text-anchor="middle" fill="#111" >GMQ</text>
<rect x="574.70" y="198.94" width="34.90" height="6.66" fill="#808080" stroke="#2a2a2a" stroke-width="1.1"/>
<line x1="592.15" y1="195.61" x2="592.15" y2="202.27" stroke="#111" stroke-width="1.0" />
<line x1="588.95" y1="195.61" x2="595.35" y2="195.61" stroke="#111" stroke-width="1.0" />
<line x1="588.95" y1="202.27" x2="595.35" y2="202.27" stroke="#111" stroke-width="1.0" />
<text x="590.30" y="218.90" font-size="10.2" text-anchor="middle" fill="#111" >Verr</text>
<rect x="624.30" y="145.66" width="34.50" height="59.94" fill="#808080" stroke="#2a2a2a" stroke-width="1.1"/>
<line x1="641.55" y1="130.68" x2="641.55" y2="160.64" stroke="#111" stroke-width="1.0" />
<line x1="638.35" y1="130.68" x2="644.75" y2="130.68" stroke="#111" stroke-width="1.0" />
<line x1="638.35" y1="160.64" x2="644.75" y2="160.64" stroke="#111" stroke-width="1.0" />
<text x="641.00" y="218.90" font-size="10.2" text-anchor="middle" fill="#111" >TRAM-34</text>
<polygon points="542.80,40.00 543.62,41.77 545.56,42.00 544.12,43.33 544.50,45.25 542.80,44.29 541.10,45.25 541.48,43.33 540.04,42.00 541.98,41.77" fill="#111"/>
<polygon points="592.20,180.60 593.02,182.37 594.96,182.60 593.52,183.93 593.90,185.85 592.20,184.89 590.50,185.85 590.88,183.93 589.44,182.60 591.38,182.37" fill="#111"/>
<text x="0" y="0" font-size="11.0" text-anchor="middle" fill="#111" transform="translate(432.90,122.35) rotate(-90)">Channel open probability</text>
<line x1="24.50" y1="268.00" x2="24.50" y2="339.10" stroke="#555" stroke-width="1.0" />
<line x1="24.00" y1="338.50" x2="253.20" y2="338.50" stroke="#555" stroke-width="1.0" />
<line x1="22.50" y1="332.40" x2="24.50" y2="332.40" stroke="#444" stroke-width="0.8" />
<text x="0" y="0" font-size="7.0" text-anchor="end" fill="#333" transform="translate(21.00,334.90) scale(0.9,1)">0.0</text>
<line x1="22.50" y1="320.80" x2="24.50" y2="320.80" stroke="#444" stroke-width="0.8" />
<text x="0" y="0" font-size="7.0" text-anchor="end" fill="#333" transform="translate(21.00,323.30) scale(0.9,1)">0.1</text>
<line x1="22.50" y1="309.20" x2="24.50" y2="309.20" stroke="#444" stroke-width="0.8" />
<text x="0" y="0" font-size="7.0" text-anchor="end" fill="#333" transform="translate(21.00,311.70) scale(0.9,1)">0.2</text>
<line x1="22.50" y1="297.60" x2="24.50" y2="297.60" stroke="#444" stroke-width="0.8" />
<text x="0" y="0" font-size="7.0" text-anchor="end" fill="#333" transform="translate(21.00,300.10) scale(0.9,1)">0.3</text>
<line x1="22.50" y1="286.00" x2="24.50" y2="286.00" stroke="#444" stroke-width="0.8" />
<text x="0" y="0" font-size="7.0" text-anchor="end" fill="#333" transform="translate(21.00,288.50) scale(0.9,1)">0.4</text>
<line x1="22.50" y1="274.40" x2="24.50" y2="274.40" stroke="#444" stroke-width="0.8" />
<text x="0" y="0" font-size="7.0" text-anchor="end" fill="#333" transform="translate(21.00,276.90) scale(0.9,1)">0.5</text>
<line x1="24.80" y1="338.50" x2="24.80" y2="340.30" stroke="#444" stroke-width="0.8" />
<text x="0" y="0" font-size="7.0" text-anchor="middle" fill="#333" transform="translate(24.80,347.50) scale(0.9,1)">0</text>
<line x1="47.58" y1="338.50" x2="47.58" y2="339.70" stroke="#444" stroke-width="0.8" />
<line x1="70.35" y1="338.50" x2="70.35" y2="340.30" stroke="#444" stroke-width="0.8" />
<text x="0" y="0" font-size="7.0" text-anchor="middle" fill="#333" transform="translate(70.35,347.50) scale(0.9,1)">1000</text>
<line x1="93.12" y1="338.50" x2="93.12" y2="339.70" stroke="#444" stroke-width="0.8" />
<line x1="115.90" y1="338.50" x2="115.90" y2="340.30" stroke="#444" stroke-width="0.8" />
<text x="0" y="0" font-size="7.0" text-anchor="middle" fill="#333" transform="translate(115.90,347.50) scale(0.9,1)">2000</text>
<line x1="138.68" y1="338.50" x2="138.68" y2="339.70" stroke="#444" stroke-width="0.8" />
<line x1="161.45" y1="338.50" x2="161.45" y2="340.30" stroke="#444" stroke-width="0.8" />
<text x="0" y="0" font-size="7.0" text-anchor="middle" fill="#333" transform="translate(161.45,347.50) scale(0.9,1)">3000</text>
<line x1="184.23" y1="338.50" x2="184.23" y2="339.70" stroke="#444" stroke-width="0.8" />
<line x1="207.00" y1="338.50" x2="207.00" y2="340.30" stroke="#444" stroke-width="0.8" />
<text x="0" y="0" font-size="7.0" text-anchor="middle" fill="#333" transform="translate(207.00,347.50) scale(0.9,1)">4000</text>
<line x1="229.78" y1="338.50" x2="229.78" y2="339.70" stroke="#444" stroke-width="0.8" />
<line x1="252.55" y1="338.50" x2="252.55" y2="340.30" stroke="#444" stroke-width="0.8" />
<text x="0" y="0" font-size="7.0" text-anchor="middle" fill="#333" transform="translate(252.55,347.50) scale(0.9,1)">5000</text>
<text x="138.70" y="354.90" font-size="6.5" text-anchor="middle" fill="#333" >msec</text>
<text x="0" y="0" font-size="7.0" text-anchor="middle" fill="#222" transform="translate(7.00,300.90) rotate(-90)">Open probability</text>
<path d="M25.78,278.14H27.88V310.90H29.64V327.19H33.67V319.31H36.12V316.33H37.52V294.78H39.27V316.33H41.37V324.22H43.65V311.43H45.75V313.18H47.15V318.96H49.26V316.68H51.01V323.69H53.29V326.67H54.69V300.04H56.79V307.92H58.89V313.18H60.64V332.45H62.92V329.82H64.67V302.67H66.78V305.47H68.88V321.41H70.46V311.78H72.03V309.50H72.56V305.47H74.48V321.24H76.06V332.45H77.81V324.57H82.72V327.19H84.82V321.94H86.57V316.33H90.08V327.19H93.58V316.33H95.33V313.18H97.61V307.92H99.71V316.33H104.09V332.45H105.84V310.90H109.35V327.19H110.22V315.81H111.10V313.18H112.85V321.06H114.25V322.81H115.48V332.45H117.58V307.92H118.98V305.64H121.26V324.57H123.36V310.90H125.12V292.15H127.22V301.79H128.97V324.57H130.72V302.67H133.00V324.57H134.75V316.33H137.03V283.40H136.82V283.25H139.56V313.36H141.39V327.04H143.21V318.83H145.04V281.06H147.41V308.43H149.23V313.36H151.61V324.31H152.70V294.74H154.71V332.52H156.90V327.04H157.99V319.01H160.73V297.48H163.28V327.04H164.38V314.27H166.57V332.52H170.40V319.01H172.59V332.52H175.69V315.73H177.88V308.80H182.81V327.04H184.64V302.41H186.46V313.36H187.92V299.67H190.66V313.36H192.48V327.04H194.31V313.36H196.13V294.20H198.50V332.52H200.33V299.67H202.88V321.57H206.17V308.43H208.36V311.53H210.18V313.36H214.38V310.62H216.20V302.96H218.03V313.36H221.13V318.83H223.50V316.09H225.69V313.36H227.70V321.57H231.72V318.83H233.54V321.57H235.73V302.96H237.55V332.52H239.38V316.09H241.75V321.57H243.58V313.36H245.40V310.62H247.23V278.14H249.60V308.43H251.42V321.57H252.70V321.57H253.20" fill="none" stroke="#5050f4" stroke-width="1.0"/>
<line x1="24.40" y1="375.10" x2="24.40" y2="445.80" stroke="#555" stroke-width="1.0" />
<line x1="23.90" y1="445.20" x2="253.20" y2="445.20" stroke="#555" stroke-width="1.0" />
<line x1="22.40" y1="438.79" x2="24.40" y2="438.79" stroke="#444" stroke-width="0.8" />
<text x="0" y="0" font-size="7.0" text-anchor="end" fill="#333" transform="translate(21.00,441.29) scale(0.9,1)">0.5</text>
<line x1="22.40" y1="427.07" x2="24.40" y2="427.07" stroke="#444" stroke-width="0.8" />
<text x="0" y="0" font-size="7.0" text-anchor="end" fill="#333" transform="translate(21.00,429.57) scale(0.9,1)">1.0</text>
<line x1="22.40" y1="415.36" x2="24.40" y2="415.36" stroke="#444" stroke-width="0.8" />
<text x="0" y="0" font-size="7.0" text-anchor="end" fill="#333" transform="translate(21.00,417.86) scale(0.9,1)">1.5</text>
<line x1="22.40" y1="403.64" x2="24.40" y2="403.64" stroke="#444" stroke-width="0.8" />
<text x="0" y="0" font-size="7.0" text-anchor="end" fill="#333" transform="translate(21.00,406.14) scale(0.9,1)">2.0</text>
<line x1="22.40" y1="391.93" x2="24.40" y2="391.93" stroke="#444" stroke-width="0.8" />
<text x="0" y="0" font-size="7.0" text-anchor="end" fill="#333" transform="translate(21.00,394.43) scale(0.9,1)">2.5</text>
<line x1="22.40" y1="380.21" x2="24.40" y2="380.21" stroke="#444" stroke-width="0.8" />
<text x="0" y="0" font-size="7.0" text-anchor="end" fill="#333" transform="translate(21.00,382.71) scale(0.9,1)">3.0</text>
<line x1="24.80" y1="445.20" x2="24.80" y2="447.00" stroke="#444" stroke-width="0.8" />
<text x="0" y="0" font-size="7.0" text-anchor="middle" fill="#333" transform="translate(24.80,454.00) scale(0.9,1)">0</text>
<line x1="47.58" y1="445.20" x2="47.58" y2="446.40" stroke="#444" stroke-width="0.8" />
<line x1="70.35" y1="445.20" x2="70.35" y2="447.00" stroke="#444" stroke-width="0.8" />
<text x="0" y="0" font-size="7.0" text-anchor="middle" fill="#333" transform="translate(70.35,454.00) scale(0.9,1)">1000</text>
<line x1="93.12" y1="445.20" x2="93.12" y2="446.40" stroke="#444" stroke-width="0.8" />
<line x1="115.90" y1="445.20" x2="115.90" y2="447.00" stroke="#444" stroke-width="0.8" />
<text x="0" y="0" font-size="7.0" text-anchor="middle" fill="#333" transform="translate(115.90,454.00) scale(0.9,1)">2000</text>
<line x1="138.68" y1="445.20" x2="138.68" y2="446.40" stroke="#444" stroke-width="0.8" />
<line x1="161.45" y1="445.20" x2="161.45" y2="447.00" stroke="#444" stroke-width="0.8" />
<text x="0" y="0" font-size="7.0" text-anchor="middle" fill="#333" transform="translate(161.45,454.00) scale(0.9,1)">3000</text>
<line x1="184.23" y1="445.20" x2="184.23" y2="446.40" stroke="#444" stroke-width="0.8" />
<line x1="207.00" y1="445.20" x2="207.00" y2="447.00" stroke="#444" stroke-width="0.8" />
<text x="0" y="0" font-size="7.0" text-anchor="middle" fill="#333" transform="translate(207.00,454.00) scale(0.9,1)">4000</text>
<line x1="229.78" y1="445.20" x2="229.78" y2="446.40" stroke="#444" stroke-width="0.8" />
<line x1="252.55" y1="445.20" x2="252.55" y2="447.00" stroke="#444" stroke-width="0.8" />
<text x="0" y="0" font-size="7.0" text-anchor="middle" fill="#333" transform="translate(252.55,454.00) scale(0.9,1)">5000</text>
<text x="138.70" y="464.30" font-size="6.5" text-anchor="middle" fill="#333" >msec</text>
<text x="0" y="0" font-size="7.0" text-anchor="middle" fill="#222" transform="translate(8.00,409.90) rotate(-90)">Waveform height (mV)</text>
<polyline points="27.88,398.38 29.29,417.30 30.51,411.17 31.39,430.44 32.79,432.19 36.29,423.43 37.52,419.05 38.40,412.92 39.62,412.57 40.67,412.40 41.90,432.19 49.78,436.57 51.18,422.21 53.29,432.19 55.91,407.67 57.32,412.92 58.54,417.30 59.42,415.20 61.52,432.19 64.67,422.21 66.43,404.69 73.43,440.60 74.31,436.22 75.71,434.82 79.57,417.65 80.97,422.56 81.84,435.70 84.47,427.46 87.45,438.68 89.55,435.35 91.48,422.56 93.93,414.15 95.33,401.18 96.21,434.47 99.19,430.97 100.94,431.32 103.22,433.42 104.62,413.45 107.25,434.47 109.70,413.45 110.57,436.92 111.45,423.96 114.25,433.42 118.11,406.79 118.98,433.95 122.49,405.91 123.36,414.67 124.24,405.04 125.12,405.39 126.34,411.17 128.09,428.69 129.50,399.78 132.65,417.30 134.75,400.66 135.91,388.25 137.74,426.93 142.66,390.44 143.76,407.41 144.49,411.61 146.86,411.61 148.14,419.64 150.51,395.18 152.34,423.83 153.25,424.38 155.44,402.48 157.26,412.34 157.81,426.57 162.37,428.03 164.20,431.68 165.11,434.23 166.93,432.96 167.85,433.50 170.04,434.23 171.13,436.61 172.41,419.64 173.32,422.92 174.23,407.41 175.15,428.39 176.42,386.06 178.43,433.50 179.71,424.38 183.91,433.87 184.64,407.96 187.01,424.74 190.66,418.91 191.57,401.02 193.76,423.83 194.31,437.88 195.77,411.97 199.23,430.77 200.69,391.90 201.97,421.46 203.80,406.50 206.53,423.28 208.36,415.26 209.82,382.41 213.47,412.88 214.93,416.53 218.03,426.93 220.22,417.08 221.68,437.15 224.42,439.34 226.24,423.83 227.52,428.03 229.34,417.81 230.26,394.09 231.72,438.98 232.99,428.76 234.45,429.31 235.36,436.06 238.47,413.80 239.01,401.93 239.93,433.87 241.75,396.09 243.58,394.09 244.49,429.85 244.49,413.43 247.59,421.46 248.50,386.79 250.88,414.71 252.15,418.91" fill="none" stroke="#e8383c" stroke-width="0.9" stroke-linejoin="round"/>
<circle cx="27.88" cy="398.38" r="1.2" fill="none" stroke="#e8383c" stroke-width="0.7"/>
<circle cx="29.29" cy="417.30" r="1.2" fill="none" stroke="#e8383c" stroke-width="0.7"/>
<circle cx="30.51" cy="411.17" r="1.2" fill="none" stroke="#e8383c" stroke-width="0.7"/>
<circle cx="31.39" cy="430.44" r="1.2" fill="none" stroke="#e8383c" stroke-width="0.7"/>
<circle cx="32.79" cy="432.19" r="1.2" fill="none" stroke="#e8383c" stroke-width="0.7"/>
<circle cx="36.29" cy="423.43" r="1.2" fill="none" stroke="#e8383c" stroke-width="0.7"/>
<circle cx="37.52" cy="419.05" r="1.2" fill="none" stroke="#e8383c" stroke-width="0.7"/>
<circle cx="38.40" cy="412.92" r="1.2" fill="none" stroke="#e8383c" stroke-width="0.7"/>
<circle cx="39.62" cy="412.57" r="1.2" fill="none" stroke="#e8383c" stroke-width="0.7"/>
<circle cx="40.67" cy="412.40" r="1.2" fill="none" stroke="#e8383c" stroke-width="0.7"/>
<circle cx="41.90" cy="432.19" r="1.2" fill="none" stroke="#e8383c" stroke-width="0.7"/>
<circle cx="49.78" cy="436.57" r="1.2" fill="none" stroke="#e8383c" stroke-width="0.7"/>
<circle cx="51.18" cy="422.21" r="1.2" fill="none" stroke="#e8383c" stroke-width="0.7"/>
<circle cx="53.29" cy="432.19" r="1.2" fill="none" stroke="#e8383c" stroke-width="0.7"/>
<circle cx="55.91" cy="407.67" r="1.2" fill="none" stroke="#e8383c" stroke-width="0.7"/>
<circle cx="57.32" cy="412.92" r="1.2" fill="none" stroke="#e8383c" stroke-width="0.7"/>
<circle cx="58.54" cy="417.30" r="1.2" fill="none" stroke="#e8383c" stroke-width="0.7"/>
<circle cx="59.42" cy="415.20" r="1.2" fill="none" stroke="#e8383c" stroke-width="0.7"/>
<circle cx="61.52" cy="432.19" r="1.2" fill="none" stroke="#e8383c" stroke-width="0.7"/>
<circle cx="64.67" cy="422.21" r="1.2" fill="none" stroke="#e8383c" stroke-width="0.7"/>
<circle cx="66.43" cy="404.69" r="1.2" fill="none" stroke="#e8383c" stroke-width="0.7"/>
<circle cx="73.43" cy="440.60" r="1.2" fill="none" stroke="#e8383c" stroke-width="0.7"/>
<circle cx="74.31" cy="436.22" r="1.2" fill="none" stroke="#e8383c" stroke-width="0.7"/>
<circle cx="75.71" cy="434.82" r="1.2" fill="none" stroke="#e8383c" stroke-width="0.7"/>
<circle cx="79.57" cy="417.65" r="1.2" fill="none" stroke="#e8383c" stroke-width="0.7"/>
<circle cx="80.97" cy="422.56" r="1.2" fill="none" stroke="#e8383c" stroke-width="0.7"/>
<circle cx="81.84" cy="435.70" r="1.2" fill="none" stroke="#e8383c" stroke-width="0.7"/>
<circle cx="84.47" cy="427.46" r="1.2" fill="none" stroke="#e8383c" stroke-width="0.7"/>
<circle cx="87.45" cy="438.68" r="1.2" fill="none" stroke="#e8383c" stroke-width="0.7"/>
<circle cx="89.55" cy="435.35" r="1.2" fill="none" stroke="#e8383c" stroke-width="0.7"/>
<circle cx="91.48" cy="422.56" r="1.2" fill="none" stroke="#e8383c" stroke-width="0.7"/>
<circle cx="93.93" cy="414.15" r="1.2" fill="none" stroke="#e8383c" stroke-width="0.7"/>
<circle cx="95.33" cy="401.18" r="1.2" fill="none" stroke="#e8383c" stroke-width="0.7"/>
<circle cx="96.21" cy="434.47" r="1.2" fill="none" stroke="#e8383c" stroke-width="0.7"/>
<circle cx="99.19" cy="430.97" r="1.2" fill="none" stroke="#e8383c" stroke-width="0.7"/>
<circle cx="100.94" cy="431.32" r="1.2" fill="none" stroke="#e8383c" stroke-width="0.7"/>
<circle cx="103.22" cy="433.42" r="1.2" fill="none" stroke="#e8383c" stroke-width="0.7"/>
<circle cx="104.62" cy="413.45" r="1.2" fill="none" stroke="#e8383c" stroke-width="0.7"/>
<circle cx="107.25" cy="434.47" r="1.2" fill="none" stroke="#e8383c" stroke-width="0.7"/>
<circle cx="109.70" cy="413.45" r="1.2" fill="none" stroke="#e8383c" stroke-width="0.7"/>
<circle cx="110.57" cy="436.92" r="1.2" fill="none" stroke="#e8383c" stroke-width="0.7"/>
<circle cx="111.45" cy="423.96" r="1.2" fill="none" stroke="#e8383c" stroke-width="0.7"/>
<circle cx="114.25" cy="433.42" r="1.2" fill="none" stroke="#e8383c" stroke-width="0.7"/>
<circle cx="118.11" cy="406.79" r="1.2" fill="none" stroke="#e8383c" stroke-width="0.7"/>
<circle cx="118.98" cy="433.95" r="1.2" fill="none" stroke="#e8383c" stroke-width="0.7"/>
<circle cx="122.49" cy="405.91" r="1.2" fill="none" stroke="#e8383c" stroke-width="0.7"/>
<circle cx="123.36" cy="414.67" r="1.2" fill="none" stroke="#e8383c" stroke-width="0.7"/>
<circle cx="124.24" cy="405.04" r="1.2" fill="none" stroke="#e8383c" stroke-width="0.7"/>
<circle cx="125.12" cy="405.39" r="1.2" fill="none" stroke="#e8383c" stroke-width="0.7"/>
<circle cx="126.34" cy="411.17" r="1.2" fill="none" stroke="#e8383c" stroke-width="0.7"/>
<circle cx="128.09" cy="428.69" r="1.2" fill="none" stroke="#e8383c" stroke-width="0.7"/>
<circle cx="129.50" cy="399.78" r="1.2" fill="none" stroke="#e8383c" stroke-width="0.7"/>
<circle cx="132.65" cy="417.30" r="1.2" fill="none" stroke="#e8383c" stroke-width="0.7"/>
<circle cx="134.75" cy="400.66" r="1.2" fill="none" stroke="#e8383c" stroke-width="0.7"/>
<circle cx="135.91" cy="388.25" r="1.2" fill="none" stroke="#e8383c" stroke-width="0.7"/>
<circle cx="137.74" cy="426.93" r="1.2" fill="none" stroke="#e8383c" stroke-width="0.7"/>
<circle cx="142.66" cy="390.44" r="1.2" fill="none" stroke="#e8383c" stroke-width="0.7"/>
<circle cx="143.76" cy="407.41" r="1.2" fill="none" stroke="#e8383c" stroke-width="0.7"/>
<circle cx="144.49" cy="411.61" r="1.2" fill="none" stroke="#e8383c" stroke-width="0.7"/>
<circle cx="146.86" cy="411.61" r="1.2" fill="none" stroke="#e8383c" stroke-width="0.7"/>
<circle cx="148.14" cy="419.64" r="1.2" fill="none" stroke="#e8383c" stroke-width="0.7"/>
<circle cx="150.51" cy="395.18" r="1.2" fill="none" stroke="#e8383c" stroke-width="0.7"/>
<circle cx="152.34" cy="423.83" r="1.2" fill="none" stroke="#e8383c" stroke-width="0.7"/>
<circle cx="153.25" cy="424.38" r="1.2" fill="none" stroke="#e8383c" stroke-width="0.7"/>
<circle cx="155.44" cy="402.48" r="1.2" fill="none" stroke="#e8383c" stroke-width="0.7"/>
<circle cx="157.26" cy="412.34" r="1.2" fill="none" stroke="#e8383c" stroke-width="0.7"/>
<circle cx="157.81" cy="426.57" r="1.2" fill="none" stroke="#e8383c" stroke-width="0.7"/>
<circle cx="162.37" cy="428.03" r="1.2" fill="none" stroke="#e8383c" stroke-width="0.7"/>
<circle cx="164.20" cy="431.68" r="1.2" fill="none" stroke="#e8383c" stroke-width="0.7"/>
<circle cx="165.11" cy="434.23" r="1.2" fill="none" stroke="#e8383c" stroke-width="0.7"/>
<circle cx="166.93" cy="432.96" r="1.2" fill="none" stroke="#e8383c" stroke-width="0.7"/>
<circle cx="167.85" cy="433.50" r="1.2" fill="none" stroke="#e8383c" stroke-width="0.7"/>
<circle cx="170.04" cy="434.23" r="1.2" fill="none" stroke="#e8383c" stroke-width="0.7"/>
<circle cx="171.13" cy="436.61" r="1.2" fill="none" stroke="#e8383c" stroke-width="0.7"/>
<circle cx="172.41" cy="419.64" r="1.2" fill="none" stroke="#e8383c" stroke-width="0.7"/>
<circle cx="173.32" cy="422.92" r="1.2" fill="none" stroke="#e8383c" stroke-width="0.7"/>
<circle cx="174.23" cy="407.41" r="1.2" fill="none" stroke="#e8383c" stroke-width="0.7"/>
<circle cx="175.15" cy="428.39" r="1.2" fill="none" stroke="#e8383c" stroke-width="0.7"/>
<circle cx="176.42" cy="386.06" r="1.2" fill="none" stroke="#e8383c" stroke-width="0.7"/>
<circle cx="178.43" cy="433.50" r="1.2" fill="none" stroke="#e8383c" stroke-width="0.7"/>
<circle cx="179.71" cy="424.38" r="1.2" fill="none" stroke="#e8383c" stroke-width="0.7"/>
<circle cx="183.91" cy="433.87" r="1.2" fill="none" stroke="#e8383c" stroke-width="0.7"/>
<circle cx="184.64" cy="407.96" r="1.2" fill="none" stroke="#e8383c" stroke-width="0.7"/>
<circle cx="187.01" cy="424.74" r="1.2" fill="none" stroke="#e8383c" stroke-width="0.7"/>
<circle cx="190.66" cy="418.91" r="1.2" fill="none" stroke="#e8383c" stroke-width="0.7"/>
<circle cx="191.57" cy="401.02" r="1.2" fill="none" stroke="#e8383c" stroke-width="0.7"/>
<circle cx="193.76" cy="423.83" r="1.2" fill="none" stroke="#e8383c" stroke-width="0.7"/>
<circle cx="194.31" cy="437.88" r="1.2" fill="none" stroke="#e8383c" stroke-width="0.7"/>
<circle cx="195.77" cy="411.97" r="1.2" fill="none" stroke="#e8383c" stroke-width="0.7"/>
<circle cx="199.23" cy="430.77" r="1.2" fill="none" stroke="#e8383c" stroke-width="0.7"/>
<circle cx="200.69" cy="391.90" r="1.2" fill="none" stroke="#e8383c" stroke-width="0.7"/>
<circle cx="201.97" cy="421.46" r="1.2" fill="none" stroke="#e8383c" stroke-width="0.7"/>
<circle cx="203.80" cy="406.50" r="1.2" fill="none" stroke="#e8383c" stroke-width="0.7"/>
<circle cx="206.53" cy="423.28" r="1.2" fill="none" stroke="#e8383c" stroke-width="0.7"/>
<circle cx="208.36" cy="415.26" r="1.2" fill="none" stroke="#e8383c" stroke-width="0.7"/>
<circle cx="209.82" cy="382.41" r="1.2" fill="none" stroke="#e8383c" stroke-width="0.7"/>
<circle cx="213.47" cy="412.88" r="1.2" fill="none" stroke="#e8383c" stroke-width="0.7"/>
<circle cx="214.93" cy="416.53" r="1.2" fill="none" stroke="#e8383c" stroke-width="0.7"/>
<circle cx="218.03" cy="426.93" r="1.2" fill="none" stroke="#e8383c" stroke-width="0.7"/>
<circle cx="220.22" cy="417.08" r="1.2" fill="none" stroke="#e8383c" stroke-width="0.7"/>
<circle cx="221.68" cy="437.15" r="1.2" fill="none" stroke="#e8383c" stroke-width="0.7"/>
<circle cx="224.42" cy="439.34" r="1.2" fill="none" stroke="#e8383c" stroke-width="0.7"/>
<circle cx="226.24" cy="423.83" r="1.2" fill="none" stroke="#e8383c" stroke-width="0.7"/>
<circle cx="227.52" cy="428.03" r="1.2" fill="none" stroke="#e8383c" stroke-width="0.7"/>
<circle cx="229.34" cy="417.81" r="1.2" fill="none" stroke="#e8383c" stroke-width="0.7"/>
<circle cx="230.26" cy="394.09" r="1.2" fill="none" stroke="#e8383c" stroke-width="0.7"/>
<circle cx="231.72" cy="438.98" r="1.2" fill="none" stroke="#e8383c" stroke-width="0.7"/>
<circle cx="232.99" cy="428.76" r="1.2" fill="none" stroke="#e8383c" stroke-width="0.7"/>
<circle cx="234.45" cy="429.31" r="1.2" fill="none" stroke="#e8383c" stroke-width="0.7"/>
<circle cx="235.36" cy="436.06" r="1.2" fill="none" stroke="#e8383c" stroke-width="0.7"/>
<circle cx="238.47" cy="413.80" r="1.2" fill="none" stroke="#e8383c" stroke-width="0.7"/>
<circle cx="239.01" cy="401.93" r="1.2" fill="none" stroke="#e8383c" stroke-width="0.7"/>
<circle cx="239.93" cy="433.87" r="1.2" fill="none" stroke="#e8383c" stroke-width="0.7"/>
<circle cx="241.75" cy="396.09" r="1.2" fill="none" stroke="#e8383c" stroke-width="0.7"/>
<circle cx="243.58" cy="394.09" r="1.2" fill="none" stroke="#e8383c" stroke-width="0.7"/>
<circle cx="244.49" cy="429.85" r="1.2" fill="none" stroke="#e8383c" stroke-width="0.7"/>
<circle cx="244.49" cy="413.43" r="1.2" fill="none" stroke="#e8383c" stroke-width="0.7"/>
<circle cx="247.59" cy="421.46" r="1.2" fill="none" stroke="#e8383c" stroke-width="0.7"/>
<circle cx="248.50" cy="386.79" r="1.2" fill="none" stroke="#e8383c" stroke-width="0.7"/>
<circle cx="250.88" cy="414.71" r="1.2" fill="none" stroke="#e8383c" stroke-width="0.7"/>
<circle cx="252.15" cy="418.91" r="1.2" fill="none" stroke="#e8383c" stroke-width="0.7"/>
<line x1="310.60" y1="294.70" x2="310.60" y2="421.90" stroke="#555" stroke-width="1.0" />
<line x1="310.10" y1="421.30" x2="469.50" y2="421.30" stroke="#555" stroke-width="1.0" />
<line x1="308.10" y1="420.00" x2="310.60" y2="420.00" stroke="#555" stroke-width="0.8" />
<text x="304.30" y="423.00" font-size="8.6" text-anchor="middle" fill="#333" >0</text>
<line x1="309.10" y1="400.60" x2="310.60" y2="400.60" stroke="#555" stroke-width="0.7" />
<line x1="308.10" y1="381.20" x2="310.60" y2="381.20" stroke="#555" stroke-width="0.8" />
<text x="304.30" y="384.20" font-size="8.6" text-anchor="middle" fill="#333" >1</text>
<line x1="309.10" y1="361.80" x2="310.60" y2="361.80" stroke="#555" stroke-width="0.7" />
<line x1="308.10" y1="342.40" x2="310.60" y2="342.40" stroke="#555" stroke-width="0.8" />
<text x="304.30" y="345.40" font-size="8.6" text-anchor="middle" fill="#333" >2</text>
<line x1="309.10" y1="323.00" x2="310.60" y2="323.00" stroke="#555" stroke-width="0.7" />
<line x1="308.10" y1="303.60" x2="310.60" y2="303.60" stroke="#555" stroke-width="0.8" />
<text x="304.30" y="306.60" font-size="8.6" text-anchor="middle" fill="#333" >3</text>
<line x1="316.70" y1="421.30" x2="316.70" y2="423.50" stroke="#555" stroke-width="0.8" />
<text x="316.70" y="432.60" font-size="8.8" text-anchor="middle" fill="#333" >0.0</text>
<line x1="332.00" y1="421.30" x2="332.00" y2="422.70" stroke="#555" stroke-width="0.8" />
<line x1="347.30" y1="421.30" x2="347.30" y2="423.50" stroke="#555" stroke-width="0.8" />
<text x="347.30" y="432.60" font-size="8.8" text-anchor="middle" fill="#333" >0.1</text>
<line x1="362.60" y1="421.30" x2="362.60" y2="422.70" stroke="#555" stroke-width="0.8" />
<line x1="377.90" y1="421.30" x2="377.90" y2="423.50" stroke="#555" stroke-width="0.8" />
<text x="377.90" y="432.60" font-size="8.8" text-anchor="middle" fill="#333" >0.2</text>
<line x1="393.20" y1="421.30" x2="393.20" y2="422.70" stroke="#555" stroke-width="0.8" />
<line x1="408.50" y1="421.30" x2="408.50" y2="423.50" stroke="#555" stroke-width="0.8" />
<text x="408.50" y="432.60" font-size="8.8" text-anchor="middle" fill="#333" >0.3</text>
<line x1="423.80" y1="421.30" x2="423.80" y2="422.70" stroke="#555" stroke-width="0.8" />
<line x1="439.10" y1="421.30" x2="439.10" y2="423.50" stroke="#555" stroke-width="0.8" />
<text x="439.10" y="432.60" font-size="8.8" text-anchor="middle" fill="#333" >0.4</text>
<line x1="454.40" y1="421.30" x2="454.40" y2="422.70" stroke="#555" stroke-width="0.8" />
<line x1="469.70" y1="421.30" x2="469.70" y2="423.50" stroke="#555" stroke-width="0.8" />
<text x="469.70" y="432.60" font-size="8.8" text-anchor="middle" fill="#333" >0.5</text>
<text x="390.00" y="445.40" font-size="10.7" text-anchor="middle" fill="#222" >Open probability</text>
<text x="0" y="0" font-size="10.8" text-anchor="middle" fill="#222" transform="translate(294.20,358.00) rotate(-90)">Waveform height (mV)</text>
<ellipse cx="316.50" cy="339.90" rx="1.5" ry="1.3" fill="none" stroke="#5a5af0" stroke-width="0.7"/>
<ellipse cx="330.90" cy="319.80" rx="1.5" ry="1.3" fill="none" stroke="#5a5af0" stroke-width="0.7"/>
<ellipse cx="330.90" cy="337.30" rx="1.5" ry="1.3" fill="none" stroke="#5a5af0" stroke-width="0.7"/>
<ellipse cx="330.90" cy="354.10" rx="1.5" ry="1.3" fill="none" stroke="#5a5af0" stroke-width="0.7"/>
<ellipse cx="337.70" cy="328.20" rx="1.5" ry="1.3" fill="none" stroke="#5a5af0" stroke-width="0.7"/>
<ellipse cx="337.70" cy="345.30" rx="1.5" ry="1.3" fill="none" stroke="#5a5af0" stroke-width="0.7"/>
<ellipse cx="344.80" cy="343.10" rx="1.5" ry="1.3" fill="none" stroke="#5a5af0" stroke-width="0.7"/>
<ellipse cx="344.80" cy="346.60" rx="1.5" ry="1.3" fill="none" stroke="#5a5af0" stroke-width="0.7"/>
<ellipse cx="359.00" cy="312.20" rx="1.5" ry="1.3" fill="none" stroke="#5a5af0" stroke-width="0.7"/>
<ellipse cx="359.00" cy="316.70" rx="1.5" ry="1.3" fill="none" stroke="#5a5af0" stroke-width="0.7"/>
<ellipse cx="366.40" cy="306.20" rx="1.5" ry="1.3" fill="none" stroke="#5a5af0" stroke-width="0.7"/>
<ellipse cx="366.40" cy="326.20" rx="1.5" ry="1.3" fill="none" stroke="#5a5af0" stroke-width="0.7"/>
<ellipse cx="366.40" cy="348.50" rx="1.5" ry="1.3" fill="none" stroke="#5a5af0" stroke-width="0.7"/>
<ellipse cx="316.50" cy="358.40" rx="1.5" ry="1.3" fill="none" stroke="#5a5af0" stroke-width="0.7"/>
<ellipse cx="316.50" cy="360.10" rx="1.5" ry="1.3" fill="none" stroke="#5a5af0" stroke-width="0.7"/>
<ellipse cx="316.50" cy="382.30" rx="1.5" ry="1.3" fill="none" stroke="#5a5af0" stroke-width="0.7"/>
<ellipse cx="316.50" cy="390.00" rx="1.5" ry="1.3" fill="none" stroke="#5a5af0" stroke-width="0.7"/>
<ellipse cx="316.50" cy="391.50" rx="1.5" ry="1.3" fill="none" stroke="#5a5af0" stroke-width="0.7"/>
<ellipse cx="316.50" cy="393.20" rx="1.5" ry="1.3" fill="none" stroke="#5a5af0" stroke-width="0.7"/>
<ellipse cx="323.50" cy="389.00" rx="1.5" ry="1.3" fill="none" stroke="#5a5af0" stroke-width="0.7"/>
<ellipse cx="330.90" cy="368.10" rx="1.5" ry="1.3" fill="none" stroke="#5a5af0" stroke-width="0.7"/>
<ellipse cx="330.90" cy="373.20" rx="1.5" ry="1.3" fill="none" stroke="#5a5af0" stroke-width="0.7"/>
<ellipse cx="330.90" cy="381.60" rx="1.5" ry="1.3" fill="none" stroke="#5a5af0" stroke-width="0.7"/>
<ellipse cx="330.90" cy="388.50" rx="1.5" ry="1.3" fill="none" stroke="#5a5af0" stroke-width="0.7"/>
<ellipse cx="330.90" cy="391.30" rx="1.5" ry="1.3" fill="none" stroke="#5a5af0" stroke-width="0.7"/>
<ellipse cx="330.90" cy="393.90" rx="1.5" ry="1.3" fill="none" stroke="#5a5af0" stroke-width="0.7"/>
<ellipse cx="330.90" cy="396.20" rx="1.5" ry="1.3" fill="none" stroke="#5a5af0" stroke-width="0.7"/>
<ellipse cx="337.70" cy="364.50" rx="1.5" ry="1.3" fill="none" stroke="#5a5af0" stroke-width="0.7"/>
<ellipse cx="337.70" cy="372.60" rx="1.5" ry="1.3" fill="none" stroke="#5a5af0" stroke-width="0.7"/>
<ellipse cx="337.70" cy="388.50" rx="1.5" ry="1.3" fill="none" stroke="#5a5af0" stroke-width="0.7"/>
<ellipse cx="337.70" cy="392.00" rx="1.5" ry="1.3" fill="none" stroke="#5a5af0" stroke-width="0.7"/>
<ellipse cx="344.80" cy="364.50" rx="1.5" ry="1.3" fill="none" stroke="#5a5af0" stroke-width="0.7"/>
<ellipse cx="344.80" cy="366.10" rx="1.5" ry="1.3" fill="none" stroke="#5a5af0" stroke-width="0.7"/>
<ellipse cx="344.80" cy="371.30" rx="1.5" ry="1.3" fill="none" stroke="#5a5af0" stroke-width="0.7"/>
<ellipse cx="344.80" cy="380.30" rx="1.5" ry="1.3" fill="none" stroke="#5a5af0" stroke-width="0.7"/>
<ellipse cx="344.80" cy="383.30" rx="1.5" ry="1.3" fill="none" stroke="#5a5af0" stroke-width="0.7"/>
<ellipse cx="344.80" cy="394.50" rx="1.5" ry="1.3" fill="none" stroke="#5a5af0" stroke-width="0.7"/>
<ellipse cx="351.90" cy="379.40" rx="1.5" ry="1.3" fill="none" stroke="#5a5af0" stroke-width="0.7"/>
<ellipse cx="351.90" cy="388.50" rx="1.5" ry="1.3" fill="none" stroke="#5a5af0" stroke-width="0.7"/>
<ellipse cx="351.90" cy="395.80" rx="1.5" ry="1.3" fill="none" stroke="#5a5af0" stroke-width="0.7"/>
<ellipse cx="351.90" cy="399.70" rx="1.5" ry="1.3" fill="none" stroke="#5a5af0" stroke-width="0.7"/>
<ellipse cx="359.00" cy="355.80" rx="1.5" ry="1.3" fill="none" stroke="#5a5af0" stroke-width="0.7"/>
<ellipse cx="359.00" cy="359.30" rx="1.5" ry="1.3" fill="none" stroke="#5a5af0" stroke-width="0.7"/>
<ellipse cx="359.00" cy="367.80" rx="1.5" ry="1.3" fill="none" stroke="#5a5af0" stroke-width="0.7"/>
<ellipse cx="359.00" cy="386.10" rx="1.5" ry="1.3" fill="none" stroke="#5a5af0" stroke-width="0.7"/>
<ellipse cx="359.00" cy="388.10" rx="1.5" ry="1.3" fill="none" stroke="#5a5af0" stroke-width="0.7"/>
<ellipse cx="359.00" cy="391.30" rx="1.5" ry="1.3" fill="none" stroke="#5a5af0" stroke-width="0.7"/>
<ellipse cx="359.00" cy="396.50" rx="1.5" ry="1.3" fill="none" stroke="#5a5af0" stroke-width="0.7"/>
<ellipse cx="359.00" cy="398.40" rx="1.5" ry="1.3" fill="none" stroke="#5a5af0" stroke-width="0.7"/>
<ellipse cx="359.00" cy="400.30" rx="1.5" ry="1.3" fill="none" stroke="#5a5af0" stroke-width="0.7"/>
<ellipse cx="366.40" cy="355.40" rx="1.5" ry="1.3" fill="none" stroke="#5a5af0" stroke-width="0.7"/>
<ellipse cx="366.40" cy="363.90" rx="1.5" ry="1.3" fill="none" stroke="#5a5af0" stroke-width="0.7"/>
<ellipse cx="366.40" cy="368.10" rx="1.5" ry="1.3" fill="none" stroke="#5a5af0" stroke-width="0.7"/>
<ellipse cx="366.40" cy="374.50" rx="1.5" ry="1.3" fill="none" stroke="#5a5af0" stroke-width="0.7"/>
<ellipse cx="366.40" cy="380.30" rx="1.5" ry="1.3" fill="none" stroke="#5a5af0" stroke-width="0.7"/>
<ellipse cx="366.40" cy="382.30" rx="1.5" ry="1.3" fill="none" stroke="#5a5af0" stroke-width="0.7"/>
<ellipse cx="366.40" cy="392.00" rx="1.5" ry="1.3" fill="none" stroke="#5a5af0" stroke-width="0.7"/>
<ellipse cx="366.40" cy="393.20" rx="1.5" ry="1.3" fill="none" stroke="#5a5af0" stroke-width="0.7"/>
<ellipse cx="380.50" cy="313.90" rx="1.5" ry="1.3" fill="none" stroke="#5a5af0" stroke-width="0.7"/>
<ellipse cx="373.40" cy="333.20" rx="1.5" ry="1.3" fill="none" stroke="#5a5af0" stroke-width="0.7"/>
<ellipse cx="394.70" cy="335.20" rx="1.5" ry="1.3" fill="none" stroke="#5a5af0" stroke-width="0.7"/>
<ellipse cx="373.40" cy="342.90" rx="1.5" ry="1.3" fill="none" stroke="#5a5af0" stroke-width="0.7"/>
<ellipse cx="387.60" cy="343.20" rx="1.5" ry="1.3" fill="none" stroke="#5a5af0" stroke-width="0.7"/>
<ellipse cx="401.80" cy="348.30" rx="1.5" ry="1.3" fill="none" stroke="#5a5af0" stroke-width="0.7"/>
<ellipse cx="373.40" cy="356.00" rx="1.5" ry="1.3" fill="none" stroke="#5a5af0" stroke-width="0.7"/>
<ellipse cx="373.40" cy="357.90" rx="1.5" ry="1.3" fill="none" stroke="#5a5af0" stroke-width="0.7"/>
<ellipse cx="373.40" cy="388.50" rx="1.5" ry="1.3" fill="none" stroke="#5a5af0" stroke-width="0.7"/>
<ellipse cx="373.40" cy="392.70" rx="1.5" ry="1.3" fill="none" stroke="#5a5af0" stroke-width="0.7"/>
<ellipse cx="380.50" cy="354.30" rx="1.5" ry="1.3" fill="none" stroke="#5a5af0" stroke-width="0.7"/>
<ellipse cx="380.50" cy="364.10" rx="1.5" ry="1.3" fill="none" stroke="#5a5af0" stroke-width="0.7"/>
<ellipse cx="380.50" cy="373.10" rx="1.5" ry="1.3" fill="none" stroke="#5a5af0" stroke-width="0.7"/>
<ellipse cx="380.50" cy="374.90" rx="1.5" ry="1.3" fill="none" stroke="#5a5af0" stroke-width="0.7"/>
<ellipse cx="380.50" cy="376.60" rx="1.5" ry="1.3" fill="none" stroke="#5a5af0" stroke-width="0.7"/>
<ellipse cx="380.50" cy="386.50" rx="1.5" ry="1.3" fill="none" stroke="#5a5af0" stroke-width="0.7"/>
<ellipse cx="380.50" cy="390.80" rx="1.5" ry="1.3" fill="none" stroke="#5a5af0" stroke-width="0.7"/>
<ellipse cx="387.60" cy="391.50" rx="1.5" ry="1.3" fill="none" stroke="#5a5af0" stroke-width="0.7"/>
<ellipse cx="394.70" cy="362.40" rx="1.5" ry="1.3" fill="none" stroke="#5a5af0" stroke-width="0.7"/>
<ellipse cx="394.70" cy="371.80" rx="1.5" ry="1.3" fill="none" stroke="#5a5af0" stroke-width="0.7"/>
<ellipse cx="394.70" cy="383.10" rx="1.5" ry="1.3" fill="none" stroke="#5a5af0" stroke-width="0.7"/>
<ellipse cx="394.70" cy="395.30" rx="1.5" ry="1.3" fill="none" stroke="#5a5af0" stroke-width="0.7"/>
<ellipse cx="401.80" cy="376.60" rx="1.5" ry="1.3" fill="none" stroke="#5a5af0" stroke-width="0.7"/>
<ellipse cx="401.80" cy="386.50" rx="1.5" ry="1.3" fill="none" stroke="#5a5af0" stroke-width="0.7"/>
<ellipse cx="408.90" cy="379.20" rx="1.5" ry="1.3" fill="none" stroke="#5a5af0" stroke-width="0.7"/>
<ellipse cx="416.20" cy="355.30" rx="1.5" ry="1.3" fill="none" stroke="#5a5af0" stroke-width="0.7"/>
<ellipse cx="416.20" cy="366.70" rx="1.5" ry="1.3" fill="none" stroke="#5a5af0" stroke-width="0.7"/>
<ellipse cx="416.20" cy="375.60" rx="1.5" ry="1.3" fill="none" stroke="#5a5af0" stroke-width="0.7"/>
<ellipse cx="423.10" cy="353.40" rx="1.5" ry="1.3" fill="none" stroke="#5a5af0" stroke-width="0.7"/>
<ellipse cx="451.80" cy="355.00" rx="1.5" ry="1.3" fill="none" stroke="#5a5af0" stroke-width="0.7"/>
<ellipse cx="458.90" cy="371.10" rx="1.5" ry="1.3" fill="none" stroke="#5a5af0" stroke-width="0.7"/>
<ellipse cx="444.40" cy="380.40" rx="1.5" ry="1.3" fill="none" stroke="#5a5af0" stroke-width="0.7"/>
<line x1="316.5" y1="402.9" x2="458.9" y2="298.7" stroke="#f01818" stroke-width="1.6"/>
<line x1="528.50" y1="302.50" x2="528.50" y2="422.00" stroke="#444" stroke-width="1.0" />
<line x1="528.00" y1="421.40" x2="677.60" y2="421.40" stroke="#444" stroke-width="1.0" />
<line x1="527.00" y1="421.95" x2="528.50" y2="421.95" stroke="#444" stroke-width="0.8" />
<line x1="526.00" y1="404.90" x2="528.50" y2="404.90" stroke="#444" stroke-width="0.9" />
<text x="525.30" y="408.50" font-size="10" text-anchor="end" fill="#222" >-0.2</text>
<line x1="527.00" y1="387.85" x2="528.50" y2="387.85" stroke="#444" stroke-width="0.8" />
<line x1="526.00" y1="370.80" x2="528.50" y2="370.80" stroke="#444" stroke-width="0.9" />
<text x="525.30" y="374.40" font-size="10" text-anchor="end" fill="#222" >0.0</text>
<line x1="527.00" y1="353.75" x2="528.50" y2="353.75" stroke="#444" stroke-width="0.8" />
<line x1="526.00" y1="336.70" x2="528.50" y2="336.70" stroke="#444" stroke-width="0.9" />
<text x="525.30" y="340.30" font-size="10" text-anchor="end" fill="#222" >0.2</text>
<line x1="527.00" y1="319.65" x2="528.50" y2="319.65" stroke="#444" stroke-width="0.8" />
<line x1="526.00" y1="302.60" x2="528.50" y2="302.60" stroke="#444" stroke-width="0.9" />
<text x="525.30" y="306.20" font-size="10" text-anchor="end" fill="#222" >0.4</text>
<line x1="528.50" y1="421.40" x2="528.50" y2="423.80" stroke="#444" stroke-width="0.8" />
<text x="528.50" y="434.00" font-size="10" text-anchor="middle" fill="#222" >-1.0</text>
<line x1="547.18" y1="421.40" x2="547.18" y2="422.90" stroke="#444" stroke-width="0.8" />
<line x1="565.85" y1="421.40" x2="565.85" y2="423.80" stroke="#444" stroke-width="0.8" />
<text x="565.85" y="434.00" font-size="10" text-anchor="middle" fill="#222" >-0.5</text>
<line x1="584.53" y1="421.40" x2="584.53" y2="422.90" stroke="#444" stroke-width="0.8" />
<line x1="603.20" y1="421.40" x2="603.20" y2="423.80" stroke="#444" stroke-width="0.8" />
<text x="603.20" y="434.00" font-size="10" text-anchor="middle" fill="#222" >0.0</text>
<line x1="621.88" y1="421.40" x2="621.88" y2="422.90" stroke="#444" stroke-width="0.8" />
<line x1="640.55" y1="421.40" x2="640.55" y2="423.80" stroke="#444" stroke-width="0.8" />
<text x="640.55" y="434.00" font-size="10" text-anchor="middle" fill="#222" >0.5</text>
<line x1="659.23" y1="421.40" x2="659.23" y2="422.90" stroke="#444" stroke-width="0.8" />
<line x1="677.90" y1="421.40" x2="677.90" y2="423.80" stroke="#444" stroke-width="0.8" />
<text x="677.90" y="434.00" font-size="10" text-anchor="middle" fill="#222" >1.0</text>
<text x="604.00" y="444.80" font-size="10.1" text-anchor="middle" fill="#222" >Time lag (sec)</text>
<text x="0" y="0" font-size="10.1" text-anchor="middle" fill="#222" transform="translate(502.90,357.00) rotate(-90)">Correlation coefficient</text>
<polyline points="528.60,383.60 532.50,375.40 536.40,393.50 539.60,367.30 543.50,366.40 547.30,386.00 551.20,388.30 554.70,381.80 558.50,391.40 562.20,389.80 566.00,392.40 569.50,396.50 573.40,378.00 577.30,389.60 581.10,365.30 584.60,370.70 588.20,359.50 591.80,359.10 595.70,323.90 599.60,312.90 603.30,349.70 606.90,338.20 610.10,337.30 614.30,343.20 618.30,386.70 621.60,355.60 625.20,339.10 629.30,347.90 636.60,405.00 640.60,355.60 644.20,368.40 647.90,370.20 651.60,370.60 655.40,350.10 659.40,377.90 663.10,391.20 666.70,379.00 670.40,402.20 674.00,391.20 677.70,387.00" fill="none" stroke="#ff3cff" stroke-width="1.05" stroke-linejoin="round"/>
<polygon points="599.50,305.00 600.26,306.65 602.07,306.87 600.73,308.10 601.09,309.88 599.50,309.00 597.91,309.88 598.27,308.10 596.93,306.87 598.74,306.65" fill="#222"/>
</svg>
</body></html>
